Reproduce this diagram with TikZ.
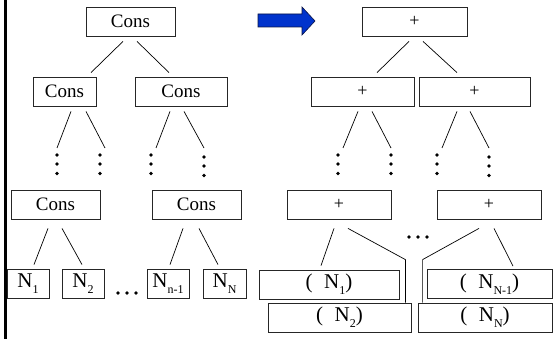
\documentclass[tikz,border=0pt]{standalone}
\usepackage{fontspec}
\setmainfont{Liberation Serif}
\usetikzlibrary{calc}
\definecolor{arrowblue}{RGB}{0,51,204}
\definecolor{arrowedge}{RGB}{10,20,70}
\newcommand{\Nsub}[1]{N\raisebox{-0.3em}{\fontsize{12}{12}\selectfont #1}}
\tikzset{
  box/.style={draw=black!85, line width=0.8pt, inner sep=0pt, minimum height=29pt, font=\fontsize{19}{20}\selectfont},
  plusbox/.style={box, font=\fontsize{18}{20}\selectfont},
  nbox/.style={box, font=\fontsize{21}{22}\selectfont},
  conn/.style={line width=0.7pt, black},
  vdots/.pic={\fill (0,-9) circle (1.9pt); \fill (0,0) circle (1.9pt); \fill (0,9.5) circle (1.9pt);},
  hdots/.pic={\fill (-9,0) circle (1.9pt); \fill (0,0) circle (1.9pt); \fill (9,0) circle (1.9pt);}
}
\begin{document}
\begin{tikzpicture}[x=1pt,y=-1pt]
\useasboundingbox (0,0) rectangle (553,339);
\fill[white] (0,0) rectangle (553,339);
% left bar
\draw[line width=2.5pt] (5.5,0) -- (5.5,339);
% left tree
\node[box, minimum width=89pt] (c0) at (130.5,21.5) {Cons};
\node[box, minimum width=63pt] (c1) at (64.5,91.5) {Cons};
\node[box, minimum width=92pt] (c2) at (181,91.5) {Cons};
\node[box, minimum width=89pt] (c3) at (55.5,204.5) {Cons};
\node[box, minimum width=89pt] (c4) at (196.5,204.5) {Cons};
\node[nbox, minimum width=42pt] (n1) at (28,283.5) {\Nsub{1}};
\node[nbox, minimum width=42pt] (n2) at (83,283.5) {\Nsub{2}};
\node[nbox, minimum width=42pt] (n3) at (168,283.5) {\Nsub{n-1}};
\node[nbox, minimum width=43pt] (n4) at (224.5,283.5) {\Nsub{N}};
\coordinate (d1) at (57,164);
\coordinate (d2) at (100,164);
\coordinate (d3) at (151,164);
\coordinate (d4) at (204,166);
\pic at (d1) {vdots};
\pic at (d2) {vdots};
\pic at (d3) {vdots};
\pic at (d4) {vdots};
\coordinate (ld) at (127,293);
\pic at (ld) {hdots};
\draw[conn] ($(c0.south)+(-7.5,5)$) -- ($(c1.north)+(26.5,-4)$);
\draw[conn] ($(c0.south)+(6.5,5)$) -- ($(c2.north)+(-12,-4)$);
\draw[conn] ($(c1.south)+(6.5,5)$) -- ($(d1)+(0,-16)$);
\draw[conn] ($(c1.south)+(21.5,5)$) -- ($(d2)+(5,-16)$);
\draw[conn] ($(c2.south)+(-11,5)$) -- ($(d3)+(5,-16)$);
\draw[conn] ($(c2.south)+(3,5)$) -- ($(d4)+(0,-18)$);
\draw[conn] ($(c3.south)+(-7.5,9)$) -- ($(n1.north)+(6,-4)$);
\draw[conn] ($(c3.south)+(6.5,9)$) -- ($(n2.north)+(-1,-4)$);
\draw[conn] ($(c4.south)+(-13.5,9)$) -- ($(n3.north)+(2,-4)$);
\draw[conn] ($(c4.south)+(2.5,9)$) -- ($(n4.north)+(-6.5,-4)$);
% arrow
\filldraw[fill=arrowblue, draw=arrowedge, line width=0.6pt]
  (258,14) -- (302,14) -- (302,7) -- (315,21) -- (302,35) -- (302,27) -- (258,27) -- cycle;
% right tree
\node[plusbox, minimum width=105pt] (p0) at (414.5,21.5) {+};
\node[plusbox, minimum width=103pt] (p1) at (362.5,91.5) {+};
\node[plusbox, minimum width=111pt] (p2) at (474.5,91.5) {+};
\node[plusbox, minimum width=104pt] (p3) at (339,204.5) {+};
\node[plusbox, minimum width=104pt] (p4) at (489,204.5) {+};
\node[nbox, minimum width=140pt] (m1) at (329,284.5) {(\hspace{0.55em}\Nsub{1})};
\node[nbox, minimum width=143pt] (m2) at (339.5,317.5) {(\hspace{0.55em}\Nsub{2})};
\node[nbox, minimum width=125pt] (m3) at (489.5,284) {(\hspace{0.55em}\Nsub{N-1})};
\node[nbox, minimum width=134pt] (m4) at (485,317.5) {(\hspace{0.55em}\Nsub{N})};
\coordinate (e1) at (338,164);
\coordinate (e2) at (391,164);
\coordinate (e3) at (437,164);
\coordinate (e4) at (489,166);
\pic at (e1) {vdots};
\pic at (e2) {vdots};
\pic at (e3) {vdots};
\pic at (e4) {vdots};
\coordinate (rd) at (418,237);
\pic at (rd) {hdots};
\draw[conn] ($(p0.south)+(-5.5,5)$) -- ($(p1.north)+(14.5,-4)$);
\draw[conn] ($(p0.south)+(8.5,5)$) -- ($(p2.north)+(-17.5,-4)$);
\draw[conn] ($(p1.south)+(-4.5,5)$) -- ($(e1)+(5,-16)$);
\draw[conn] ($(p1.south)+(9.5,5)$) -- ($(e2)+(0,-16)$);
\draw[conn] ($(p2.south)+(-17.5,5)$) -- ($(e3)+(5,-16)$);
\draw[conn] ($(p2.south)+(-4.5,5)$) -- ($(e4)+(0,-18)$);
\draw[conn] ($(p3.south)+(-5,9)$) -- ($(m1.north)+(-8,-4)$);
\draw[conn] ($(p3.south)+(9,9)$) -- ($(m2.north east)+(-6,-43)$) -- ($(m2.north east)+(-6,0)$);
\draw[conn] ($(p4.south)+(-10,9)$) -- ($(m4.north west)+(5,-43)$) -- ($(m4.north west)+(5,0)$);
\draw[conn] ($(p4.south)+(5,9)$) -- ($(m3.north)+(23.5,-3)$);
\end{tikzpicture}
\end{document}
